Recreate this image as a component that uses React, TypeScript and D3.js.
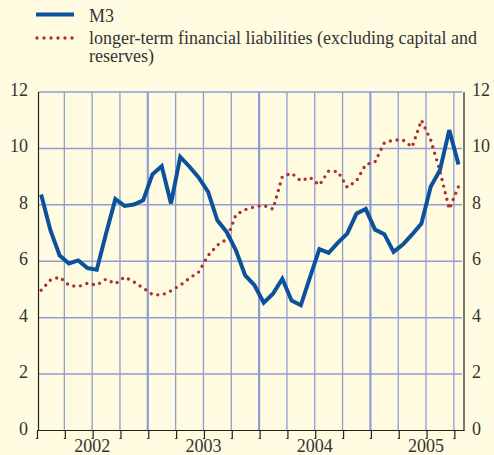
import React from "react";
import * as d3 from "d3";

// Monthly data, Jan 2002 .. Oct 2005 (annual % changes)
const m3Values = [
  8.37, 7.1, 6.2, 5.92, 6.03, 5.76, 5.7, 6.98, 8.2, 7.96, 8.01, 8.16,
  9.08, 9.37, 8.05, 9.7, 9.35, 8.96, 8.46, 7.45, 7.04, 6.39, 5.5, 5.15,
  4.53, 4.85, 5.38, 4.61, 4.44, 5.45, 6.43, 6.3, 6.66, 6.98, 7.69, 7.85,
  7.12, 6.96, 6.33, 6.59, 6.95, 7.34, 8.64, 9.23, 10.65, 9.43,
];
const ltfValues = [
  4.97, 5.33, 5.44, 5.15, 5.1, 5.22, 5.15, 5.37, 5.2, 5.44, 5.27, 5.05,
  4.82, 4.8, 4.95, 5.15, 5.4, 5.62, 6.2, 6.57, 6.78, 7.65, 7.83, 7.93,
  7.98, 7.85, 9.0, 9.12, 8.85, 8.97, 8.7, 9.2, 9.18, 8.62, 8.85, 9.43,
  9.52, 10.2, 10.3, 10.3, 10.05, 11.0, 10.3, 9.2, 7.85, 8.65,
];
const yearLabels = ["2002", "2003", "2004", "2005"];
const yTicks = [0, 2, 4, 6, 8, 10, 12];
const legendLabels = [
  "M3",
  "longer-term financial liabilities (excluding capital and",
  "reserves)",
];

const W = 494;
const H = 455;
const BG = "#fffbe0";
const BLUE = "#0b519c";
const RED = "#b0302e";
const GRID = "#8e9dd6";
const TEXT = "#333333";
const FONT = "'Liberation Serif', 'Times New Roman', serif";

export default function App() {
  const left = 38.5;
  const right = 464;
  const top = 92;
  const bottom = 430.5;

  // x in month units, 0 = start of Jan 2002
  const x = d3.scaleLinear().domain([0, 48]).range([36.5, 481.7]);
  const y = d3.scaleLinear().domain([0, 12]).range([bottom, top]);

  const line = d3
    .line<number>()
    .x((_, i) => x(i + 0.5))
    .y((d) => y(d));

  const quarters = d3.range(3, 48, 3);
  const yearStarts = [12, 24, 36];

  return (
    <svg
      width={W}
      height={H}
      style={{ position: "absolute", left: 0, top: 0, fontFamily: FONT }}
    >
      <rect x={0} y={0} width={W} height={H} fill={BG} />

      {/* legend */}
      <line x1={36} x2={74} y1={14.5} y2={14.5} stroke={BLUE} strokeWidth={4} />
      <line
        x1={37}
        x2={74}
        y1={38}
        y2={38}
        stroke={RED}
        strokeWidth={3.4}
        strokeLinecap="round"
        strokeDasharray="0 7"
      />
      <text x={89} y={22} fontSize={18} fill={TEXT}>{legendLabels[0]}</text>
      <text x={89} y={44} fontSize={18} fill={TEXT}>{legendLabels[1]}</text>
      <text x={89} y={62} fontSize={18} fill={TEXT}>{legendLabels[2]}</text>

      {/* horizontal grid */}
      {yTicks.slice(1).map((t) => (
        <line
          key={"h" + t}
          x1={left}
          x2={462}
          y1={y(t)}
          y2={y(t)}
          stroke={GRID}
          strokeWidth={1.5}
        />
      ))}
      {/* vertical grid */}
      {quarters.map((q) => (
        <line
          key={"v" + q}
          x1={x(q)}
          x2={x(q)}
          y1={top}
          y2={bottom}
          stroke={GRID}
          strokeWidth={yearStarts.includes(q) ? 2.2 : 1.3}
        />
      ))}

      {/* axes */}
      <line x1={left} x2={left} y1={top} y2={bottom} stroke="#222" strokeWidth={1.2} />
      <line x1={right} x2={right} y1={top} y2={bottom} stroke="#222" strokeWidth={1.2} />
      <line x1={37} x2={right + 0.6} y1={bottom} y2={bottom} stroke="#222" strokeWidth={1.2} />
      {[0, ...quarters].map((q) => {
        const xx = q === 0 ? 37.5 : x(q) + 1;
        return (
          <path
            key={"t" + q}
            d={`M${xx},${bottom}V${bottom + 8}h-1.5`}
            fill="none"
            stroke="#222"
            strokeWidth={1.2}
          />
        );
      })}

      {/* y tick labels */}
      {yTicks.map((t) => (
        <g key={"yl" + t}>
          <text x={28} y={y(t) + 4} fontSize={18} fill={TEXT} textAnchor="end">
            {t}
          </text>
          <text x={472} y={y(t) + 4} fontSize={18} fill={TEXT} textAnchor="start">
            {t}
          </text>
        </g>
      ))}
      {/* year labels */}
      {yearLabels.map((lab, i) => (
        <text
          key={lab}
          x={x(i * 12 + 6)}
          y={452}
          fontSize={18}
          fill={TEXT}
          textAnchor="middle"
        >
          {lab}
        </text>
      ))}

      {/* series */}
      <path
        d={line(ltfValues) || ""}
        fill="none"
        stroke={RED}
        strokeWidth={3.4}
        strokeLinecap="round"
        strokeDasharray="0 6.8"
      />
      <path
        d={line(m3Values) || ""}
        fill="none"
        stroke={BLUE}
        strokeWidth={4}
        strokeLinejoin="miter"
      />
    </svg>
  );
}
